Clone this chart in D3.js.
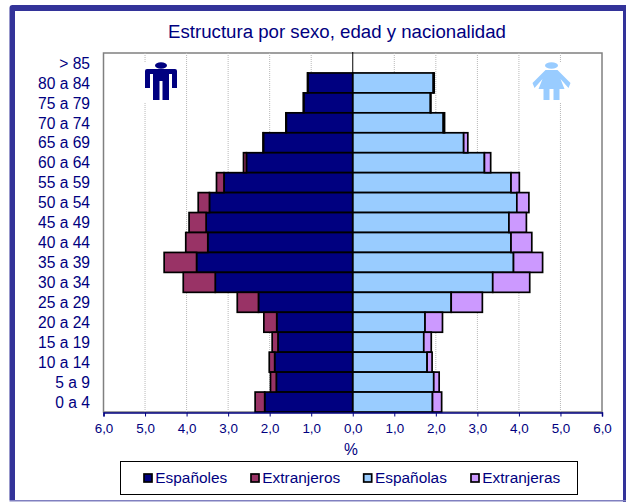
<!DOCTYPE html>
<html><head><meta charset="utf-8">
<script src="https://cdn.jsdelivr.net/npm/d3@7"></script>
<style>html,body{margin:0;padding:0;background:#fff}svg{display:block}text{font-family:"Liberation Sans",Arial,sans-serif;fill:#000080}</style>
</head><body><svg id="c" width="626" height="502"></svg>
<script>
const ageGroups=["> 85","80 a 84","75 a 79","70 a 74","65 a 69","60 a 64","55 a 59","50 a 54","45 a 49","40 a 44","35 a 39","30 a 34","25 a 29","20 a 24","15 a 19","10 a 14","5 a 9","0 a 4"];
const espanoles=[0,1.08,1.18,1.60,2.15,2.56,3.10,3.45,3.53,3.49,3.76,3.31,2.27,1.83,1.80,1.88,1.84,2.12];
const extranjeros=[0,0.01,0.01,0.01,0.01,0.07,0.18,0.27,0.41,0.53,0.78,0.77,0.51,0.31,0.14,0.13,0.14,0.23];
const espanolas=[0,1.94,1.87,2.18,2.67,3.17,3.81,3.95,3.76,3.81,3.87,3.37,2.37,1.74,1.71,1.79,1.95,1.92];
const extranjeras=[0,0.02,0.01,0.03,0.10,0.15,0.20,0.29,0.42,0.50,0.70,0.89,0.75,0.42,0.18,0.12,0.13,0.22];
const xTicks=[-6,-5,-4,-3,-2,-1,0,1,2,3,4,5,6];
const legendItems=["Españoles","Extranjeros","Españolas","Extranjeras"];
const colors=["#000080","#993366","#99ccff","#cc99ff"];
const title="Estructura por sexo, edad y nacionalidad";

const svg=d3.select("#c");
// chart frame
svg.append("path").attr("d","M9.5 501V8Q9.5 5 12.5 5H626V11H15V500H9.5Z").attr("fill","#333399");
svg.append("rect").attr("x",623).attr("y",5).attr("width",3).attr("height",497).attr("fill","#333399");
svg.append("rect").attr("x",9.5).attr("y",500).attr("width",616.5).attr("height",1.5).attr("fill","#8080c0");

svg.append("text").attr("x",337).attr("y",38).attr("text-anchor","middle").attr("font-size",18.65).text(title);

const m={l:103.5,r:602,t:53,b:412};
const x=d3.scaleLinear().domain([-6,6]).range([m.l,m.r]);
const y=d3.scaleBand().domain(ageGroups).range([m.t,m.b]).paddingInner(0);

// plot box & grid
const g=svg.append("g");
g.append("rect").attr("x",m.l).attr("y",m.t).attr("width",m.r-m.l).attr("height",m.b-m.t).attr("fill","#fff").attr("stroke","#808080").attr("stroke-width",1.5);
g.selectAll("line.grid").data(xTicks.filter(d=>d!==-6&&d!==6&&d!==0)).join("line").attr("class","grid")
 .attr("x1",d=>x(d)).attr("x2",d=>x(d)).attr("y1",m.t).attr("y2",m.b)
 .attr("stroke","#b8b8b8").attr("stroke-width",1).attr("stroke-dasharray","1 1");

// pictograms, drawn over the grid
function man(cx,cy,c){const p=svg.append("g").attr("transform",`translate(${cx},${cy})`);
 p.append("rect").attr("x",-19).attr("y",0).attr("width",38).attr("height",40).attr("fill","#fff");
 p.append("ellipse").attr("cx",0).attr("cy",3.5).attr("rx",6).attr("ry",3.2).attr("fill",c);
 p.append("path").attr("d","M-16 9Q-16 7 -14 7H14Q16 7 16 9V26H11V12H8V38H1.5V19H-1.5V38H-8V12H-11V26H-16Z").attr("fill",c);}
function woman(cx,cy,c){const p=svg.append("g").attr("transform",`translate(${cx},${cy})`);
 p.append("rect").attr("x",-19).attr("y",0).attr("width",38).attr("height",40).attr("fill","#fff");
 p.append("ellipse").attr("cx",0).attr("cy",3.5).attr("rx",6.5).attr("ry",3.2).attr("fill",c);
 p.append("path").attr("d","M-6 8H6L19 21L17 26L9 17L13 27H8V38H2V27H-2V38H-8V27H-13L-9 17L-17 26L-19 21Z").attr("fill",c);}
man(161,62,"#000080");
woman(551.5,62,"#99ccff");

// bars
function bars(base,ext,sign,c0,c1){
 const rows=ageGroups.map((a,i)=>({a,b:base[i],e:ext[i]}));
 const bar=(f0,f1,col)=>svg.append("g").attr("fill",col).attr("stroke","#000").attr("stroke-width",1.7)
  .selectAll("rect").data(rows.filter(d=>d.b>0)).join("rect")
  .attr("x",d=>Math.min(x(sign*f0(d)),x(sign*f1(d))))
  .attr("width",d=>Math.abs(x(sign*f1(d))-x(sign*f0(d))))
  .attr("y",d=>y(d.a)).attr("height",y.bandwidth());
 bar(()=>0,d=>d.b,c0);
 bar(d=>d.b,d=>d.b+d.e,c1);
}
bars(espanoles,extranjeros,-1,colors[0],colors[1]);
bars(espanolas,extranjeras,1,colors[2],colors[3]);

// centre axis
svg.append("line").attr("x1",x(0)).attr("x2",x(0)).attr("y1",m.t-1).attr("y2",m.b).attr("stroke","#000").attr("stroke-width",1);

// x axis
const fmt=d=>d3.format(".1f")(Math.abs(d)).replace(".",",");
const ax=svg.append("g").attr("transform",`translate(0,${m.b+0.5})`).call(d3.axisBottom(x).tickValues(xTicks).tickFormat(fmt).tickSize(4).tickPadding(6.5));
ax.select(".domain").attr("stroke","#000080").attr("stroke-width",1.5);
ax.selectAll(".tick line").attr("stroke","#000080").attr("stroke-width",1);
ax.selectAll("text").attr("font-size",13.4).attr("fill","#000080").style("font-family",'"Liberation Sans",Arial,sans-serif');

// y labels
svg.append("g").selectAll("text").data(ageGroups).join("text")
 .attr("x",90).attr("y",d=>y(d)+y.bandwidth()/2+5.7).attr("text-anchor","end").attr("font-size",15.6).text(d=>d);

svg.append("text").attr("x",351).attr("y",455).attr("text-anchor","middle").attr("font-size",15.6).text("%");

// legend
const lg=svg.append("g");
lg.append("rect").attr("x",120.5).attr("y",461.5).attr("width",457).attr("height",33).attr("fill","#fff").attr("stroke","#000").attr("stroke-width",1);
const lxs=[144,251,363.7,471];
legendItems.forEach((t,i)=>{
 lg.append("rect").attr("x",lxs[i]).attr("y",474).attr("width",8).attr("height",8).attr("fill",colors[i]).attr("stroke","#000").attr("stroke-width",1.7);
 lg.append("text").attr("x",lxs[i]+11.3).attr("y",483).attr("font-size",15.4).text(t);
});
</script></body></html>
